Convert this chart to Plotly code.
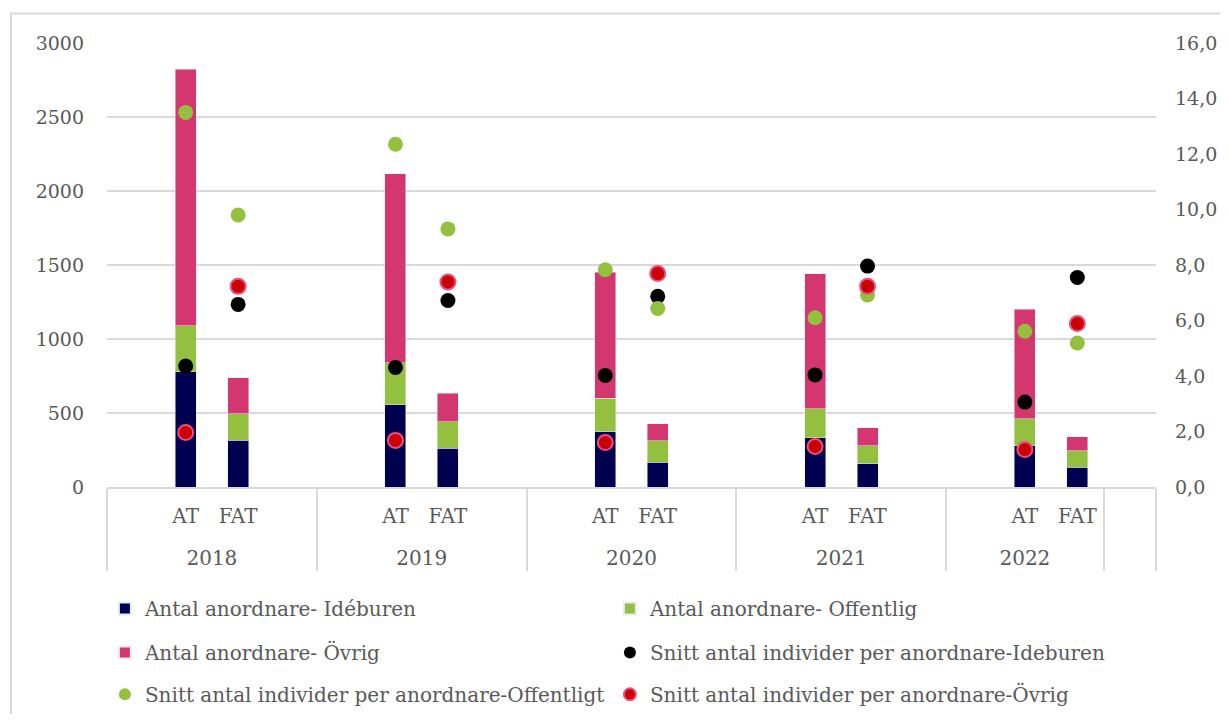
import plotly.graph_objects as go

years = ["2018", "2019", "2020", "2021", "2022"]
types = ["AT", "FAT"]

# Bars (left axis): number of organisers
ideburen_at = [780, 556, 375, 332, 278]
ideburen_fat = [316, 262, 168, 157, 133]
offentlig_at = [310, 285, 224, 197, 182]
offentlig_fat = [180, 180, 146, 121, 112]
ovrig_at = [1733, 1276, 852, 913, 740]
ovrig_fat = [242, 190, 112, 122, 94]

# Dots (right axis): average individuals per organiser
snitt_ideburen_at = [4.36, 4.31, 4.02, 4.04, 3.06]
snitt_ideburen_fat = [6.58, 6.72, 6.87, 7.96, 7.55]
snitt_offentlig_at = [13.5, 12.35, 7.83, 6.10, 5.61]
snitt_offentlig_fat = [9.8, 9.30, 6.43, 6.92, 5.19]
snitt_ovrig_at = [1.96, 1.68, 1.60, 1.46, 1.35]
snitt_ovrig_fat = [7.23, 7.39, 7.69, 7.23, 5.89]

# Category slots (Excel layout with blank slots)
xg, xs = [], []
slot_key = []
for i, yr in enumerate(years):
    subs = [" ", "AT", "FAT"] + (["  "] if yr != "2022" else [])
    for s in subs:
        xg.append("<br>" + yr)
        xs.append(s)
        slot_key.append((i, s))
xg.append("<br>   ")
xs.append(" ")
slot_key.append((None, " "))


def series(at_vals, fat_vals):
    out = []
    for i, s in slot_key:
        if s == "AT":
            out.append(at_vals[i])
        elif s == "FAT":
            out.append(fat_vals[i])
        else:
            out.append(None)
    return out


NAVY = "#000050"
GREEN = "#93C13F"
PINK = "#D43670"
RED = "#CC0000"
FONT = "DejaVu Serif"
TXT = "#595959"

fig = go.Figure()
fig.add_trace(go.Bar(x=[xg, xs], y=series(ideburen_at, ideburen_fat),
                     name="Antal anordnare- Idéburen", marker_color=NAVY,
                     legend="legend"))
fig.add_trace(go.Bar(x=[xg, xs], y=series(offentlig_at, offentlig_fat),
                     name="Antal anordnare- Offentlig", marker_color=GREEN,
                     legend="legend"))
fig.add_trace(go.Bar(x=[xg, xs], y=series(ovrig_at, ovrig_fat),
                     name="Antal anordnare- Övrig", marker_color=PINK,
                     legend="legend2"))
fig.add_trace(go.Scatter(x=[xg, xs], y=series(snitt_ideburen_at, snitt_ideburen_fat),
                         name="Snitt antal individer per anordnare-Ideburen",
                         mode="markers", yaxis="y2",
                         marker=dict(color="black", size=15),
                         legend="legend2"))
fig.add_trace(go.Scatter(x=[xg, xs], y=series(snitt_offentlig_at, snitt_offentlig_fat),
                         name="Snitt antal individer per anordnare-Offentligt",
                         mode="markers", yaxis="y2",
                         marker=dict(color=GREEN, size=15),
                         legend="legend3"))
fig.add_trace(go.Scatter(x=[xg, xs], y=series(snitt_ovrig_at, snitt_ovrig_fat),
                         name="Snitt antal individer per anordnare-Övrig",
                         mode="markers", yaxis="y2",
                         marker=dict(color=RED, size=15, line=dict(color="#E8507E", width=2)),
                         legend="legend3"))

leg_common = dict(orientation="h", x=-0.002, xanchor="left", yanchor="middle",
                  traceorder="normal",
                  entrywidth=460, entrywidthmode="pixels", itemsizing="constant",
                  font=dict(family=FONT, size=20, color=TXT), bgcolor="rgba(0,0,0,0)")

# page body adds an 8px margin, so the figure is sized 16px smaller
fig.update_layout(
    width=1212, height=706,
    margin=dict(l=99, r=64, t=35, b=227, autoexpand=False),
    paper_bgcolor="white", plot_bgcolor="white",
    barmode="stack", bargap=0.6,
    separators=", ",
    font=dict(family=FONT, size=20, color=TXT),
    legend=dict(y=-0.2736, **leg_common),
    legend2=dict(y=-0.3727, **leg_common),
    legend3=dict(y=-0.467, **leg_common),
    xaxis=dict(type="multicategory", range=[-0.5, len(xs) - 0.5], automargin=False,
               showline=True, linecolor="#D9D9D9", linewidth=2,
               showdividers=True, dividercolor="#D9D9D9", dividerwidth=2,
               ticklabelstandoff=10,
               tickfont=dict(family=FONT, size=20, color=TXT), showgrid=False),
    yaxis=dict(range=[0, 3000], tickvals=[0, 500, 1000, 1500, 2000, 2500, 3000],
               tickformat="d", showgrid=True, gridcolor="#D9D9D9", gridwidth=2,
               zeroline=False, ticklabelstandoff=22, automargin=False,
               tickfont=dict(family=FONT, size=19, color=TXT)),
    yaxis2=dict(range=[0, 16], tickvals=[0, 2, 4, 6, 8, 10, 12, 14, 16],
                tickformat=".1f", overlaying="y", side="right", showgrid=False,
                zeroline=False, ticklabelstandoff=18, automargin=False,
                tickfont=dict(family=FONT, size=19, color=TXT)),
    shapes=[dict(type="rect", xref="paper", yref="paper",
                 x0=-0.0915, x1=1.1, y0=-0.6, y1=1.0665,
                 line=dict(color="#D9D9D9", width=2), layer="below")],
)

fig.write_html("out.html")
